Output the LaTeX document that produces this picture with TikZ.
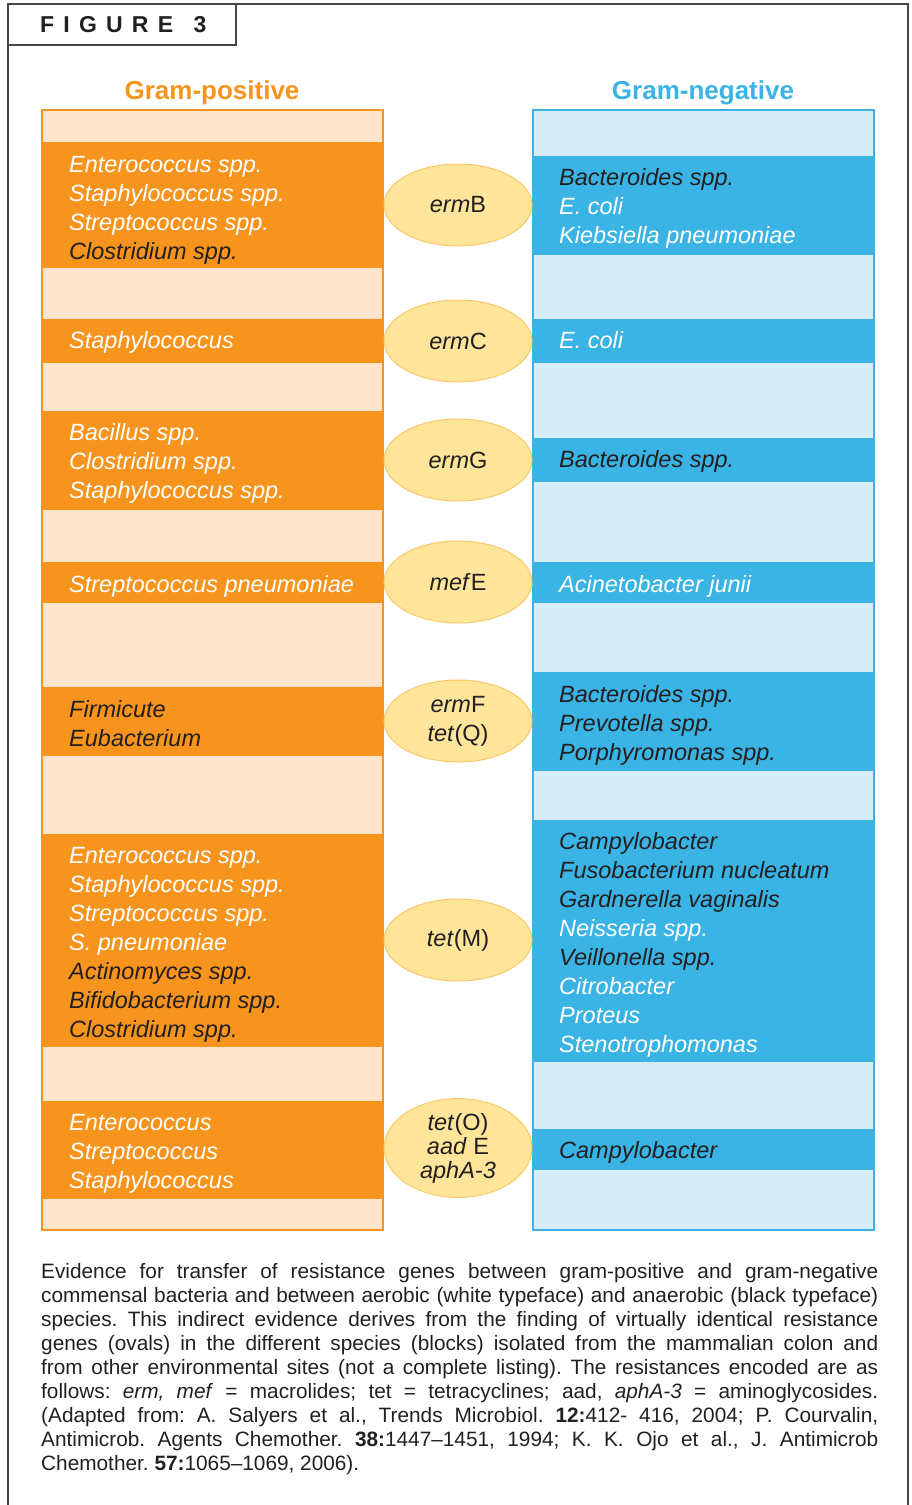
\documentclass[tikz,border=0pt]{standalone}
\usepackage{fontspec}
\setmainfont{Liberation Sans}
\usepackage{tikz}
\usetikzlibrary{shapes.geometric}
\definecolor{gpdark}{RGB}{247,148,30}
\definecolor{gplight}{RGB}{253,228,202}
\definecolor{gndark}{RGB}{58,180,228}
\definecolor{gnlight}{RGB}{214,236,249}
\definecolor{ovalfill}{RGB}{254,229,154}
\definecolor{ovaledge}{RGB}{250,200,105}
\definecolor{inkblack}{RGB}{35,31,32}
\definecolor{framegray}{RGB}{70,70,70}
\newcommand{\dk}[1]{\textcolor{inkblack}{#1}}

\begin{document}
\begin{tikzpicture}[x=1pt, y=-1pt,
      species/.style={anchor=base west, align=left, inner sep=0pt, text=white, font=\fontsize{23.5}{29}\selectfont\itshape},
      gene/.style={ellipse, draw=ovaledge, fill=ovalfill, line width=1pt, minimum width=148pt, minimum height=82pt, inner sep=0pt, align=center, text=inkblack, font=\fontsize{23.5}{29}\selectfont},
      heading/.style={font=\fontsize{26}{30}\selectfont\bfseries},
      frameline/.style={draw=framegray, line width=1.3pt}
    ]
      \useasboundingbox (0,0) rectangle (912,1505);

      % frame and figure tab
      \draw[frameline] (8,1505) -- (8,4) -- (908,4) -- (908,1505);
      \draw[frameline] (8,45) -- (236,45) -- (236,4);
      \node[anchor=west, inner sep=0pt, text=inkblack, font=\fontsize{23}{26}\selectfont\bfseries\addfontfeature{LetterSpace=40}] (figtab) at (40,25) {FIGURE\hspace{5pt} 3};

      % column headings
      \node[heading, text=gpdark] (gptitle) at (212,93) {Gram-positive};
      \node[heading, text=gndark] (gntitle) at (703,93) {Gram-negative};

      % gram-positive column
      \fill[gplight] (42,110) rectangle (383,1230);
      \fill[gpdark] (42,142) rectangle (383,268);
      \fill[gpdark] (42,319) rectangle (383,363);
      \fill[gpdark] (42,411) rectangle (383,510);
      \fill[gpdark] (42,562) rectangle (383,603);
      \fill[gpdark] (42,687) rectangle (383,756);
      \fill[gpdark] (42,834) rectangle (383,1047);
      \fill[gpdark] (42,1101) rectangle (383,1199);
      \draw[gpdark, line width=1.5pt] (42,110) rectangle (383,1230);

      % gram-negative column
      \fill[gnlight] (533,110) rectangle (874,1230);
      \fill[gndark] (533,156) rectangle (874,255);
      \fill[gndark] (533,319) rectangle (874,363);
      \fill[gndark] (533,438) rectangle (874,482);
      \fill[gndark] (533,562) rectangle (874,603);
      \fill[gndark] (533,672) rectangle (874,771);
      \fill[gndark] (533,820) rectangle (874,1062);
      \fill[gndark] (533,1129) rectangle (874,1170);
      \draw[gndark, line width=1.5pt] (533,110) rectangle (874,1230);

      % species, gram-positive (placed at the baseline of the last line)
      \node[species] (gp1) at (69,259) {Enterococcus spp.\\Staphylococcus spp.\\Streptococcus spp.\\\dk{Clostridium spp.}};
      \node[species] (gp2) at (69,348) {Staphylococcus};
      \node[species] (gp3) at (69,498) {Bacillus spp.\\Clostridium spp.\\Staphylococcus spp.};
      \node[species] (gp4) at (69,592) {Streptococcus pneumoniae};
      \node[species] (gp5) at (69,746) {\dk{Firmicute}\\\dk{Eubacterium}};
      \node[species] (gp6) at (69,1037) {Enterococcus spp.\\Staphylococcus spp.\\Streptococcus spp.\\S. pneumoniae\\\dk{Actinomyces spp.}\\\dk{Bifidobacterium spp.}\\\dk{Clostridium spp.}};
      \node[species] (gp7) at (69,1188) {Enterococcus\\Streptococcus\\Staphylococcus};

      % species, gram-negative
      \node[species] (gn1) at (559,243) {\dk{Bacteroides spp.}\\E. coli\\Kiebsiella pneumoniae};
      \node[species] (gn2) at (559,348) {E. coli};
      \node[species] (gn3) at (559,467) {\dk{Bacteroides spp.}};
      \node[species] (gn4) at (559,592) {Acinetobacter junii};
      \node[species] (gn5) at (559,760) {\dk{Bacteroides spp.}\\\dk{Prevotella spp.}\\\dk{Porphyromonas spp.}};
      \node[species] (gn6) at (559,1052) {\dk{Campylobacter}\\\dk{Fusobacterium nucleatum}\\\dk{Gardnerella vaginalis}\\Neisseria spp.\\\dk{Veillonella spp.}\\Citrobacter\\Proteus\\Stenotrophomonas};
      \node[species] (gn7) at (559,1158) {\dk{Campylobacter}};

      % shared resistance genes
      \node[gene] (ermB) at (458,205) {\textit{erm}B};
      \node[gene] (ermC) at (458,341) {\textit{erm}C};
      \node[gene] (ermG) at (458,460) {\textit{erm}G};
      \node[gene] (mefE) at (458,582) {\textit{mef}E};
      \node[gene] (ermF) at (458,721) {\textit{erm}F\\\textit{tet}(Q)};
      \node[gene] (tetM) at (458,940) {\textit{tet}(M)};
      \node[gene, font=\fontsize{23.5}{24}\selectfont] (tetO) at (458,1148) {\textit{tet}(O)\\\textit{aad} E\\\textit{aphA-3}};

      % caption
      \node[anchor=base west, text width=837pt, align=justify, inner sep=0pt, text=inkblack, font=\fontsize{20.8}{24}\selectfont\frenchspacing] (caption) at (41,1278) {%
        Evidence for transfer of resistance genes between gram-positive and gram-negative\linebreak
        commensal bacteria and between aerobic (white typeface) and anaerobic (black typeface)\linebreak
        species. This indirect evidence derives from the finding of virtually identical resistance\linebreak
        genes (ovals) in the different species (blocks) isolated from the mammalian colon and\linebreak
        from other environmental sites (not a complete listing). The resistances encoded are as\linebreak
        follows: \textit{erm, mef} = macrolides; tet = tetracyclines; aad, \textit{aphA-3} = aminoglycosides.\linebreak
        (Adapted from: A. Salyers et al., Trends Microbiol. \textbf{12:}412- 416, 2004; P. Courvalin,\linebreak
        Antimicrob. Agents Chemother. \textbf{38:}1447--1451, 1994; K. K. Ojo et al., J. Antimicrob\linebreak
        Chemother. \textbf{57:}1065--1069, 2006).};
    \end{tikzpicture}
\end{document}
